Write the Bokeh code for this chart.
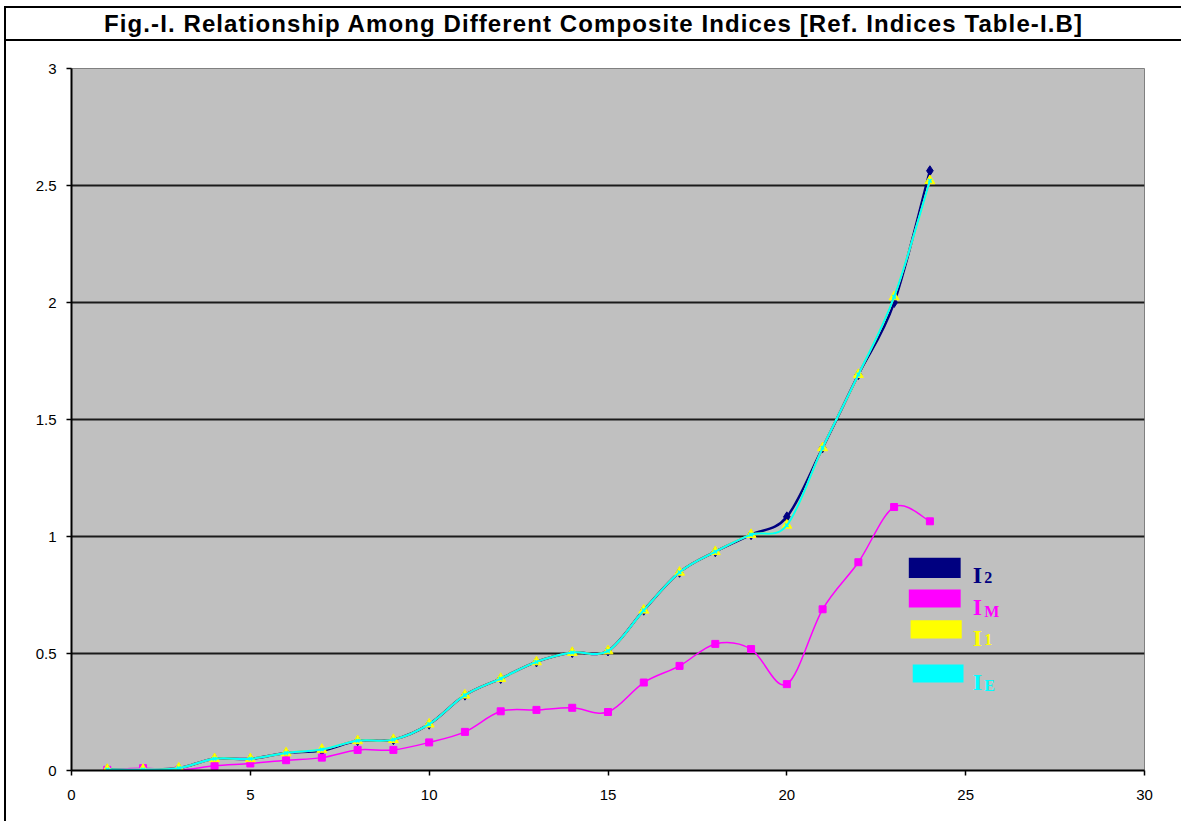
from bokeh.plotting import figure
from bokeh.layouts import column
from bokeh.models import (Range1d, FixedTicker, Label, BoxAnnotation, ColumnDataSource, Div)
from bokeh.embed import file_html
from bokeh.resources import INLINE

# ---------------- data ----------------
title_text = "Fig.-I. Relationship Among Different Composite Indices [Ref. Indices Table-I.B]"
x_vals = list(range(1, 25))
I2 = [0.005, 0.005, 0.01, 0.05, 0.05, 0.075, 0.085, 0.127, 0.132, 0.198, 0.322, 0.393,
      0.464, 0.504, 0.511, 0.685, 0.847, 0.935, 1.008, 1.084, 1.379, 1.692, 2.0, 2.563]
IM = [0.003, 0.01, 0.002, 0.02, 0.03, 0.044, 0.055, 0.088, 0.088, 0.12, 0.165, 0.253,
      0.259, 0.268, 0.25, 0.376, 0.447, 0.541, 0.519, 0.369, 0.689, 0.89, 1.126, 1.065]
I1 = [0.004, 0.004, 0.01, 0.05, 0.05, 0.075, 0.09, 0.127, 0.132, 0.198, 0.322, 0.393,
      0.464, 0.504, 0.511, 0.685, 0.847, 0.935, 1.008, 1.048, 1.379, 1.692, 2.024, 2.52]
IE = [0.004, 0.004, 0.01, 0.05, 0.05, 0.075, 0.09, 0.127, 0.132, 0.198, 0.322, 0.393,
      0.464, 0.504, 0.511, 0.685, 0.847, 0.935, 1.008, 1.048, 1.379, 1.692, 2.024, 2.52]
x_ticks = [0, 5, 10, 15, 20, 25, 30]
y_ticks = [0, 0.5, 1, 1.5, 2, 2.5, 3]
y_tick_labels = ["0", "0.5", "1", "1.5", "2", "2.5", "3"]
series_names = ["2", "M", "1", "E"]   # subscripts of I

NAVY = "#000080"
MAGENTA = "#FF00FF"
YELLOW = "#FFFF00"
CYAN = "#00FFFF"

# ---------------- title band ----------------
title_div = Div(
    text=title_text, width=1177, height=35, margin=(6, 0, 0, 4),
    styles={"box-sizing": "border-box", "border-top": "2px solid black",
            "border-bottom": "2px solid black", "border-left": "2px solid black",
            "font-family": "'Liberation Sans', Arial, sans-serif", "font-weight": "bold",
            "font-size": "24px", "line-height": "31px", "letter-spacing": "1.1px",
            "text-align": "center", "color": "black", "background": "white",
            "white-space": "nowrap", "overflow": "hidden"})

# ---------------- main chart ----------------
p = figure(width=1175, height=780, output_backend="svg", toolbar_location=None,
           x_range=Range1d(0, 30), y_range=Range1d(0, 3), margin=(0, 0, 0, 4),
           min_border_left=65, min_border_right=37, min_border_top=27, min_border_bottom=51)
p.styles = {"border-left": "2px solid black"}
p.background_fill_color = "#C0C0C0"
p.border_fill_color = "white"
p.outline_line_color = "#808080"
p.outline_line_width = 1

p.xgrid.visible = False
p.ygrid.grid_line_color = "#1a1a1a"
p.ygrid.grid_line_width = 2
p.ygrid.ticker = FixedTicker(ticks=y_ticks)

p.xaxis.ticker = FixedTicker(ticks=x_ticks)
p.yaxis.ticker = FixedTicker(ticks=y_ticks)
p.yaxis.major_label_overrides = {t: s for t, s in zip(y_ticks, y_tick_labels)}
for ax in (p.xaxis[0], p.yaxis[0]):
    ax.axis_line_color = "black"
    ax.axis_line_width = 2
    ax.major_tick_line_color = "black"
    ax.major_tick_line_width = 1.5
    ax.major_tick_in = 0
    ax.major_tick_out = 5
    ax.minor_tick_line_color = None
    ax.major_label_text_font = "Liberation Sans"
    ax.major_label_text_font_size = "15px"
    ax.major_label_text_color = "black"
p.yaxis.major_label_standoff = 10
p.xaxis.major_label_standoff = 14


def smooth(xs, ys, color, width):
    n = len(xs)
    d = dict(x0=[], y0=[], x1=[], y1=[], cx0=[], cy0=[], cx1=[], cy1=[])
    for i in range(n - 1):
        a = i - 1 if i > 0 else i
        b = i + 2 if i + 2 < n else i + 1
        d["x0"].append(xs[i]); d["y0"].append(ys[i])
        d["x1"].append(xs[i + 1]); d["y1"].append(ys[i + 1])
        d["cx0"].append(xs[i] + (xs[i + 1] - xs[a]) / 6)
        d["cy0"].append(ys[i] + (ys[i + 1] - ys[a]) / 6)
        d["cx1"].append(xs[i + 1] - (xs[b] - xs[i]) / 6)
        d["cy1"].append(ys[i + 1] - (ys[b] - ys[i]) / 6)
    p.bezier(x0="x0", y0="y0", x1="x1", y1="y1", cx0="cx0", cy0="cy0",
             cx1="cx1", cy1="cy1", source=ColumnDataSource(d),
             line_color=color, line_width=width)


# I2
smooth(x_vals, I2, NAVY, 2.5)
p.scatter(x_vals, I2, marker="diamond", size=10, fill_color=NAVY, line_color=NAVY)
# IM
smooth(x_vals, IM, MAGENTA, 1.5)
p.scatter(x_vals, IM, marker="square", size=7, fill_color=MAGENTA, line_color=MAGENTA)
# I1
smooth(x_vals, I1, YELLOW, 2)
p.scatter(x_vals, I1, marker="triangle", size=10, fill_color=YELLOW, line_color=YELLOW)
# IE
smooth(x_vals, IE, CYAN, 2)
p.scatter(x_vals, IE, marker="x", size=5, line_color=CYAN, line_width=1.5)

# ---------------- legend (custom, with subscripts) ----------------
leg = [
    (NAVY, 23.41, 24.86, 0.909, 0.823, 0.835, 0.823),
    (MAGENTA, 23.41, 24.86, 0.774, 0.697, 0.699, 0.681),
    (YELLOW, 23.46, 24.89, 0.642, 0.564, 0.567, 0.561),
    (CYAN, 23.52, 24.94, 0.453, 0.376, 0.379, 0.362),
]
for (col, l, r, t, b, ybase, ysub), sub in zip(leg, series_names):
    p.add_layout(BoxAnnotation(left=l, right=r, top=t, bottom=b, fill_color=col,
                               fill_alpha=1, line_color=None))
    p.add_layout(Label(x=25.2, y=ybase, text="I", text_color=col,
                       text_font="Liberation Serif", text_font_style="bold",
                       text_font_size="24px", text_baseline="alphabetic"))
    p.add_layout(Label(x=25.52, y=ysub, text=sub, text_color=col,
                       text_font="Liberation Serif", text_font_style="bold",
                       text_font_size="16px", text_baseline="alphabetic"))

layout = column(title_div, p, spacing=0)
open("out.html", "w").write(file_html(layout, INLINE))
